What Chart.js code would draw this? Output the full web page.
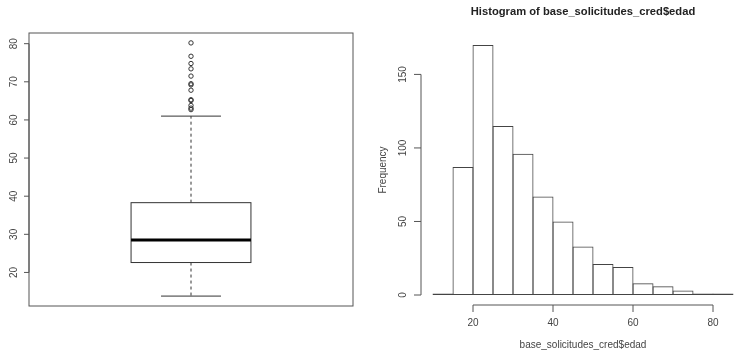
<!DOCTYPE html>
<html>
<head>
<meta charset="utf-8">
<script src="https://cdn.jsdelivr.net/npm/chart.js@4.4.1/dist/chart.umd.min.js"></script>
<style>
  html, body { margin: 0; padding: 0; background: #fff; overflow: hidden; }
  #wrap { position: relative; width: 737px; height: 352px; }
  #boxWrap { position: absolute; left: 0; top: 0; width: 368px; height: 352px; }
  #histWrap { position: absolute; left: 368px; top: 0; width: 377px; height: 352px; }
</style>
</head>
<body>
<div id="wrap">
  <div id="boxWrap"><canvas id="boxChart"></canvas></div>
  <div id="histWrap"><canvas id="histChart"></canvas></div>
</div>
<script>
// Boxplot de edad
const boxStats = { min: 13.8, q1: 22.6, median: 28.5, q3: 38.3, max: 61 };
const outliers = [62.7, 63.1, 63.8, 65.1, 65.3, 67.8, 69.2, 69.5, 71.5, 73.4, 74.8, 76.7, 80.2];
const boxTicks = [20, 30, 40, 50, 60, 70, 80];

// Histograma
const binEdges = [10, 15, 20, 25, 30, 35, 40, 45, 50, 55, 60, 65, 70, 75, 80, 85];
const counts = [1, 87, 170, 115, 96, 67, 50, 33, 21, 19, 8, 6, 3, 1, 1];
const histXTicks = [20, 40, 60, 80];
const histYTicks = [0, 50, 100, 150];

const lineColor = '#555';
const textColor = '#444';
const font = "'Liberation Sans', Arial, sans-serif";

// Plugin que dibuja ejes al estilo R
const rAxes = {
    id: 'rAxes',
    afterDatasetsDraw(chart, args, opts) {
        const ctx = chart.ctx;
        const area = chart.chartArea;
        const xs = chart.scales.x;
        const ys = chart.scales.y;
        ctx.save();
        ctx.strokeStyle = lineColor;
        ctx.fillStyle = textColor;
        ctx.lineWidth = 1;

        // Caja del boxplot
        if (opts.box) {
            const b = opts.box;
            const cx = xs.getPixelForValue(1);
            const hw = xs.getPixelForValue(1 + b.halfWidth) - cx;
            const py = v => ys.getPixelForValue(v);
            ctx.strokeStyle = '#333';
            ctx.setLineDash([3, 3]);
            ctx.beginPath();
            ctx.moveTo(cx, py(b.stats.q3)); ctx.lineTo(cx, py(b.stats.max));
            ctx.moveTo(cx, py(b.stats.q1)); ctx.lineTo(cx, py(b.stats.min));
            ctx.stroke();
            ctx.setLineDash([]);
            ctx.beginPath();
            ctx.moveTo(cx - hw / 2, py(b.stats.max)); ctx.lineTo(cx + hw / 2, py(b.stats.max));
            ctx.moveTo(cx - hw / 2, py(b.stats.min)); ctx.lineTo(cx + hw / 2, py(b.stats.min));
            ctx.stroke();
            ctx.fillStyle = '#fff';
            ctx.fillRect(cx - hw, py(b.stats.q3), hw * 2, py(b.stats.q1) - py(b.stats.q3));
            ctx.strokeRect(cx - hw, py(b.stats.q3), hw * 2, py(b.stats.q1) - py(b.stats.q3));
            ctx.strokeStyle = '#000';
            ctx.lineWidth = 3;
            ctx.beginPath();
            ctx.moveTo(cx - hw, py(b.stats.median)); ctx.lineTo(cx + hw, py(b.stats.median));
            ctx.stroke();
            ctx.lineWidth = 1;
            ctx.strokeStyle = lineColor;
            ctx.fillStyle = textColor;
        }

        if (opts.frame) {
            ctx.strokeRect(area.left, area.top, area.right - area.left, area.bottom - area.top);
        }

        ctx.font = '10px ' + font;
        // eje y
        if (opts.yTicks) {
            const t = opts.yTicks;
            const x0 = area.left;
            ctx.beginPath();
            ctx.moveTo(x0, ys.getPixelForValue(t[0]));
            ctx.lineTo(x0, ys.getPixelForValue(t[t.length - 1]));
            t.forEach(v => {
                const y = ys.getPixelForValue(v);
                ctx.moveTo(x0, y);
                ctx.lineTo(x0 - opts.tickLen, y);
            });
            ctx.stroke();
            t.forEach(v => {
                const y = ys.getPixelForValue(v);
                ctx.save();
                ctx.translate(x0 - opts.yLabelOffset, y);
                ctx.rotate(-Math.PI / 2);
                ctx.textAlign = 'center';
                ctx.textBaseline = 'middle';
                ctx.fillText(String(v), 0, 0);
                ctx.restore();
            });
        }
        // eje x
        if (opts.xTicks) {
            const t = opts.xTicks;
            const y0 = area.bottom;
            ctx.beginPath();
            ctx.moveTo(xs.getPixelForValue(t[0]), y0);
            ctx.lineTo(xs.getPixelForValue(t[t.length - 1]), y0);
            t.forEach(v => {
                const x = xs.getPixelForValue(v);
                ctx.moveTo(x, y0);
                ctx.lineTo(x, y0 + opts.tickLen);
            });
            ctx.stroke();
            ctx.textAlign = 'center';
            ctx.textBaseline = 'middle';
            t.forEach(v => {
                ctx.fillText(String(v), xs.getPixelForValue(v), y0 + 18);
            });
        }
        // titulos
        const midX = (area.left + area.right) / 2;
        if (opts.xTitle) {
            ctx.textAlign = 'center';
            ctx.textBaseline = 'middle';
            ctx.fillText(opts.xTitle, midX, area.bottom + 40);
        }
        if (opts.yTitle) {
            ctx.save();
            ctx.translate(area.left - 38, (area.top + area.bottom) / 2);
            ctx.rotate(-Math.PI / 2);
            ctx.textAlign = 'center';
            ctx.textBaseline = 'middle';
            ctx.fillText(opts.yTitle, 0, 0);
            ctx.restore();
        }
        if (opts.title) {
            ctx.font = 'bold 11.2px ' + font;
            ctx.fillStyle = '#222';
            ctx.textAlign = 'center';
            ctx.textBaseline = 'middle';
            ctx.fillText(opts.title, midX, area.top - 23);
        }
        ctx.restore();
    }
};

const hiddenScale = { display: false };

// Grafico de caja
new Chart(document.getElementById('boxChart'), {
    type: 'scatter',
    data: {
        datasets: [{
            data: outliers.map(v => ({ x: 1, y: v })),
            pointStyle: 'circle',
            pointRadius: 2.2,
            pointBorderWidth: 1,
            pointBorderColor: '#333',
            pointBackgroundColor: 'rgba(0,0,0,0)'
        }]
    },
    options: {
        responsive: true,
        maintainAspectRatio: false,
        animation: false,
        layout: { padding: { left: 29, right: 15, top: 33, bottom: 46 } },
        scales: {
            x: { ...hiddenScale, type: 'linear', min: 0.5, max: 1.5 },
            y: { ...hiddenScale, type: 'linear', min: 11.2, max: 82.8 }
        },
        plugins: {
            legend: { display: false },
            tooltip: { enabled: false },
            rAxes: {
                frame: true,
                box: { stats: boxStats, halfWidth: 0.185 },
                yTicks: boxTicks,
                tickLen: 5,
                yLabelOffset: 15
            }
        }
    },
    plugins: [rAxes]
});

// Histograma
const mids = counts.map((c, i) => (binEdges[i] + binEdges[i + 1]) / 2);
new Chart(document.getElementById('histChart'), {
    type: 'bar',
    data: {
        datasets: [{
            data: counts.map((c, i) => ({ x: mids[i], y: c })),
            backgroundColor: 'rgba(255,255,255,0)',
            borderColor: '#444',
            borderWidth: 1,
            borderSkipped: false,
            inflateAmount: 0,
            barPercentage: 1.05,
            categoryPercentage: 1
        }]
    },
    options: {
        responsive: true,
        maintainAspectRatio: false,
        animation: false,
        layout: { padding: { left: 53, right: 0, top: 35, bottom: 47 } },
        scales: {
            x: { ...hiddenScale, type: 'linear', offset: false, min: 7, max: 88 },
            y: { ...hiddenScale, type: 'linear', min: -6.8, max: 176.8 }
        },
        plugins: {
            legend: { display: false },
            tooltip: { enabled: false },
            rAxes: {
                xTicks: histXTicks,
                yTicks: histYTicks,
                tickLen: 7,
                yLabelOffset: 18,
                title: 'Histogram of base_solicitudes_cred$edad',
                xTitle: 'base_solicitudes_cred$edad',
                yTitle: 'Frequency'
            }
        }
    },
    plugins: [rAxes]
});
</script>
</body>
</html>
